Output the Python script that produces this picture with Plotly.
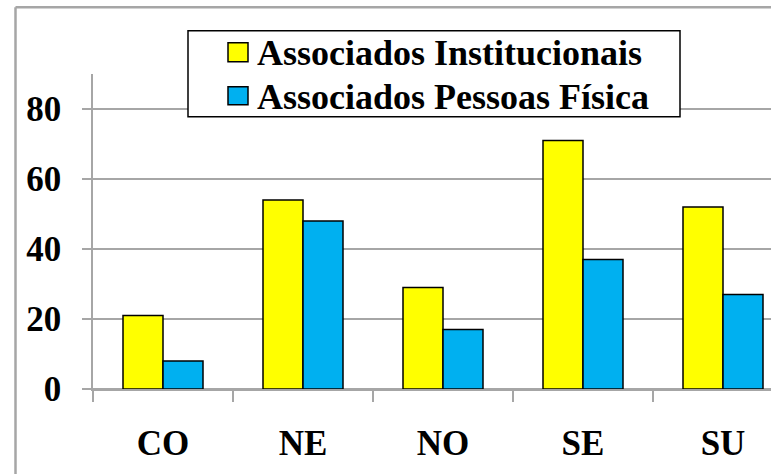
import plotly.graph_objects as go

# ---- data ----
categories = ["CO", "NE", "NO", "SE", "SU"]
series_names = ["Associados Institucionais", "Associados Pessoas Física"]
institucionais = [21, 54, 29, 71, 52]
pessoas_fisica = [8, 48, 17, 37, 27]
y_ticks = [0, 20, 40, 60, 80]

colors = ["#FFFF00", "#00B0F0"]
FONT = "Liberation Serif"
GRID = "#a6a6a6"

W, H = 771, 474
L, T, B = 93, 74.3, 389.3
R = W


def xp(px):
    return (px - L) / (R - L)


def yp(py):
    return (B - py) / (B - T)


fig = go.Figure()
for name, vals, col in zip(series_names, [institucionais, pessoas_fisica], colors):
    fig.add_trace(go.Bar(
        x=categories, y=vals, name=name,
        marker=dict(color=col, line=dict(color="#000000", width=1.5)),
        showlegend=False,
    ))

shapes = []
# outer frame (left and top edges)
shapes.append(dict(type="line", xref="paper", yref="paper",
                   x0=xp(15.5), x1=xp(15.5), y0=yp(480), y1=yp(7.5),
                   line=dict(color=GRID, width=2.5)))
shapes.append(dict(type="line", xref="paper", yref="paper",
                   x0=xp(15.5), x1=xp(790), y0=yp(7.5), y1=yp(7.5),
                   line=dict(color=GRID, width=2.5)))
# legend box
shapes.append(dict(type="rect", xref="paper", yref="paper",
                   x0=xp(188), x1=xp(680), y0=yp(117), y1=yp(31),
                   fillcolor="white", line=dict(color="#000000", width=1.5)))
# legend swatches
swatch_rows = [(43, 62), (87, 105)]
for (top, bot), col in zip(swatch_rows, colors):
    shapes.append(dict(type="rect", xref="paper", yref="paper",
                       x0=xp(228), x1=xp(248), y0=yp(bot), y1=yp(top),
                       fillcolor=col, line=dict(color="#000000", width=1.5)))

annotations = []
for name, cy in zip(series_names, [53, 97]):
    annotations.append(dict(
        text=name, xref="paper", yref="paper", x=xp(255), y=yp(cy),
        xanchor="left", yanchor="middle", showarrow=False,
        font=dict(family=FONT, size=36, color="#000000", weight="bold"),
    ))

fig.update_layout(
    width=W, height=H,
    margin=dict(l=L, r=0, t=T, b=H - B, pad=0),
    paper_bgcolor="white", plot_bgcolor="white",
    font=dict(family=FONT),
    barmode="group", bargap=0.4286, bargroupgap=0,
    shapes=shapes, annotations=annotations,
    showlegend=False,
)
fig.update_xaxes(
    range=[-0.5, -0.5 + (R - L) / 140.0],
    showline=True, linecolor=GRID, linewidth=1.5,
    ticks="outside", ticklen=11, tickcolor=GRID, tickwidth=1.5,
    tickson="boundaries", showgrid=False,
    tickfont=dict(family=FONT, size=35, color="#000000", weight="bold"),
    ticklabelstandoff=22,
)
fig.update_yaxes(
    range=[0, 90], tickvals=y_ticks,
    showline=True, linecolor=GRID, linewidth=1.5,
    ticks="outside", ticklen=9, tickcolor=GRID, tickwidth=1.5,
    showgrid=True, gridcolor=GRID, gridwidth=1.5,
    zeroline=True, zerolinecolor=GRID, zerolinewidth=1.5,
    tickfont=dict(family=FONT, size=35, color="#000000", weight="bold"),
    ticklabelstandoff=14,
)

fig.write_html("out.html", config={"displayModeBar": False},
               post_script="document.body.style.margin='0';")
